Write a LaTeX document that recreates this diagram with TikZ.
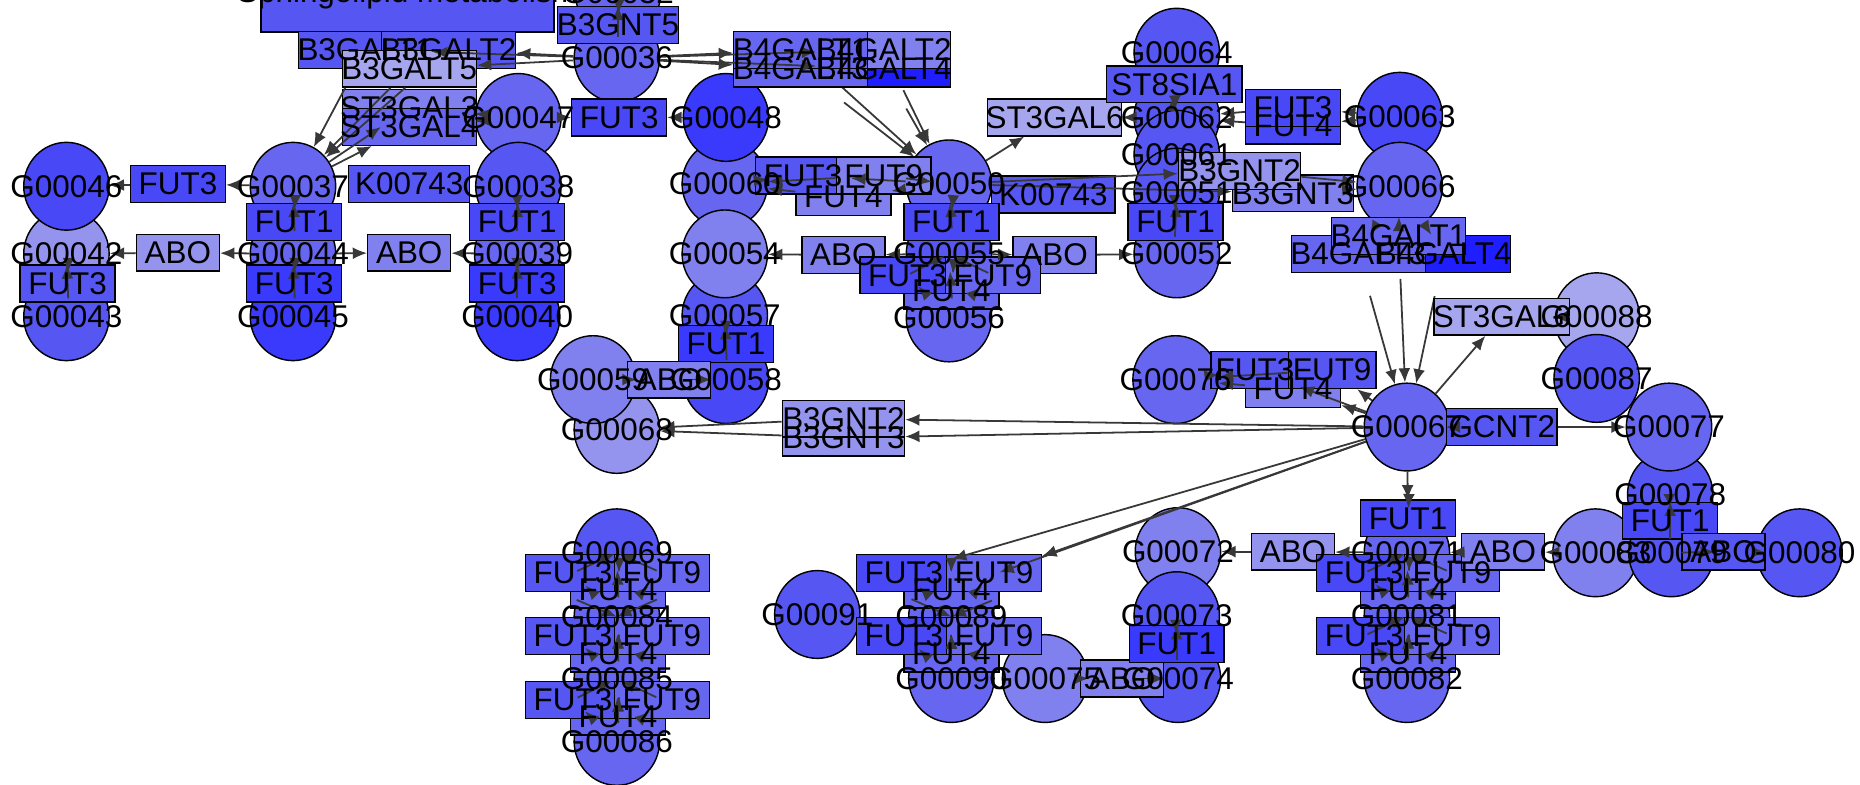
\documentclass[tikz,border=0pt]{standalone}
\usepackage{fontspec}
\newfontfamily\nodefont{Liberation Sans}
\usetikzlibrary{arrows.meta,shapes.geometric}
\definecolor{B1}{HTML}{1E1EFF}
\definecolor{B2}{HTML}{3A3AFC}
\definecolor{B3}{HTML}{4848F7}
\definecolor{B4}{HTML}{5656F3}
\definecolor{B5}{HTML}{6666F0}
\definecolor{B6}{HTML}{8080EE}
\definecolor{B7}{HTML}{9494EE}
\definecolor{B8}{HTML}{A6A6EE}
\definecolor{Edge}{HTML}{383838}
\pgfdeclarelayer{under}
\pgfdeclarelayer{labels}
\pgfsetlayers{under,main,labels}

\begin{document}
\begin{tikzpicture}[x=0.5pt, y=-0.5pt,
    cpd/.style={ellipse, draw=black, line width=0.6pt, minimum width=36pt, minimum height=37pt, inner sep=0pt},
    gene/.style={rectangle, draw=black, line width=0.6pt, minimum height=15.5pt, inner sep=0pt},
    lbl/.style={font=\nodefont\fontsize{13.25pt}{15pt}\selectfont, inner sep=0pt, text=black},
    rxn/.style={draw=Edge, line width=0.75pt, -{Latex[length=6pt, width=5pt]}}]
  \useasboundingbox (0,0) rectangle (1568,661);
  \begin{pgfonlayer}{under}
    \fill[white] (0,0) rectangle (1568,661);
  \end{pgfonlayer}
  \clip (0,0) rectangle (1568,661);

  % compounds
  \foreach \n/\x/\y/\c in {g32/521/-6/B5, g36/520/49/B5, g47/437/99/B5, g60/611/155/B5, g48/612/99/B2,
      g42/56/214/B7, g43/56/267/B4, g46/56/157/B3, g44/247/214/B5, g45/247/267/B2, g37/247/157/B5,
      g38/437/157/B4, g39/436/214/B5, g40/436/267/B2,
      g64/992/44/B4, g62/992/99/B4, g61/992/130/B4, g51/992/162/B4, g52/992/214/B5,
      g63/1180/98/B3, g66/1180/157/B5, g50/800/155/B5, g57/611/266/B4, g54/611/214/B6,
      g55/800/214/B4, g56/800/268/B5, g58/612/320/B3, g68/520/362/B7, g59/500/320/B6,
      g67/1186/360/B5, g76/991/320/B5, g88/1346/267/B8, g87/1346/319/B4, g78/1408/417/B4, g77/1407/360/B5,
      g69/520/466/B4, g84/520/520/B5, g85/520/572/B5, g86/520/625/B5, g91/689/518/B4,
      g89/802/520/B5, g90/802/572/B5, g75/881/572/B6, g72/993/465/B6, g73/992/519/B4, g74/993/572/B4,
      g71/1186/466/B5, g81/1186/519/B5, g82/1186/572/B5, g83/1345/466/B6, g79/1409/466/B4, g80/1517/466/B4}
    \node[cpd, fill=\c] (\n) at (\x,\y) {};

  % genes and map
  \node[gene, fill=B4, minimum width=123.5pt, minimum height=32pt] (sph) at (343.5,-5) {};
  \foreach \n/\x/\y/\w/\c in {b3gnt5/521/21/102/B4,
      b3galt1/308/42/113/B4, b3galt2/378/42/113/B4, b3galt5/345/58/113/B8,
      st3gal3/345/91/113/B6, st3gal4/345/107/113/B5, fut3t/522/99/80/B3,
      fut3l/150/155/80/B3, k743a/345/155/102/B4, fut1a/248/187/80/B3, fut1b/436/187/80/B3,
      aboa/150/213/70/B7, abob/345/213/70/B6, fut3c/57/239/80/B4, fut3d/248/239/80/B2, fut3e/436/239/80/B2,
      b4galt4a/745/58/113/B1, b4galt2a/745/42/113/B6, b4galt3a/675/58/113/B5, b4galt1a/675/42/113/B5,
      st3gal6a/889/99/113/B8, st8sia1/990/71/114/B4, fut4r/1090/106/80/B3, fut3r/1090/91/80/B3,
      k743b/888/164/104/B4, b3gnt3a/1090/163/102/B6, b3gnt2a/1045/144/103/B7, fut1d/991/187/80/B3,
      fut4m/711/166/80/B6, fut3m/677/148/80/B4, fut9m/745/148/80/B6, fut1c/802/187/80/B3,
      aboc/711/215/70/B6, abod/889/215/70/B6, fut4n/802/245/80/B5, fut3n/765/232/80/B3, fut9n/837/232/80/B5,
      b4galt4b/1217/214/113/B1, b4galt3b/1145/214/113/B5, b4galt1b/1179/199/113/B5,
      fut1e/612/290/80/B2, aboe/564/320/70/B6, b3gnt3b/711/369/103/B7, b3gnt2b/711/353/103/B7,
      st3gal6b/1266/267/114/B8, gcnt2/1266/360/93/B4,
      fut4s/1090/328/80/B6, fut3s/1058/312/74/B4, fut9s/1123/312/74/B4,
      fut4a1/521/497/80/B5, fut3a1/483/483/80/B4, fut9a1/558/483/80/B5,
      fut4a2/521/551/80/B5, fut3a2/483/536/80/B4, fut9a2/558/536/80/B5,
      fut4a3/521/604/80/B5, fut3a3/483/590/80/B4, fut9a3/558/590/80/B5,
      fut4b1/802/497/80/B5, fut3b1/762/483/80/B3, fut9b1/838/483/80/B5,
      fut4b2/802/551/80/B5, fut3b2/762/536/80/B3, fut9b2/838/536/80/B5,
      aboh/946/572/70/B6, fut1g/992/543/80/B2, abof/1090/465/70/B7, fut1f/1187/437/80/B3,
      fut4c1/1187/497/80/B5, fut3c1/1150/483/80/B3, fut9c1/1224/483/80/B5,
      fut4c2/1187/551/80/B5, fut3c2/1150/536/80/B3, fut9c2/1224/536/80/B5,
      abog/1267/465/70/B6, fut1h/1408/439/80/B3, aboi/1453/465/70/B4}
    \node[gene, fill=\c, minimum width=\w*0.5pt] (\n) at (\x,\y) {};

  % reactions hidden behind the boxes
  \begin{pgfonlayer}{under}
    \foreach \a/\b in {b4galt1a/g50, b4galt2a/g50, b4galt3a/g50, b4galt4a/g50,
        b4galt1b/g67, b4galt3b/g67, b4galt4b/g67}
      \draw[rxn, shorten <=10pt] (\a) -- (\b);
  \end{pgfonlayer}

  % reactions
  \draw[rxn, shorten <=9pt] (b3galt1) -- (g37);
  \draw[rxn, shorten <=12pt] (b3galt2) -- (g37);
  \draw[rxn] (b3galt5) -- (g37);
  \foreach \a/\b in {g36/b3galt1, g36/b3galt2, g36/b3galt5, g37/st3gal3, g37/st3gal4,
      st3gal3/g47, st3gal4/g47, g47/fut3t, g48/fut3t, g32/b3gnt5, b3gnt5/g36,
      g37/fut3l, fut3l/g46, g37/fut1a, fut1a/g44, g38/fut1b, fut1b/g39,
      g44/aboa, aboa/g42, g44/abob, g39/abob,
      g42/fut3c, fut3c/g43, g44/fut3d, fut3d/g45, g39/fut3e, fut3e/g40,
      g36/b4galt1a, g36/b4galt2a, g36/b4galt3a, g36/b4galt4a,
      g50/fut3m, g50/fut9m, g50/fut4m, fut3m/g60, fut9m/g60, fut4m/g60,
      g50/st3gal6a, g62/st3gal6a, g50/b3gnt2a, g50/b3gnt3a, b3gnt2a/g66, b3gnt3a/g66,
      g50/fut1c, fut1c/g55, g55/aboc, aboc/g54, g55/abod, abod/g52,
      g55/fut3n, g55/fut4n, g55/fut9n, fut3n/g56, fut4n/g56, fut9n/g56,
      st8sia1/g64, st8sia1/g61, g63/fut3r, g63/fut4r, fut3r/g62, fut4r/g62,
      g51/fut1d, fut1d/g52, g66/b4galt1b, g66/b4galt3b, g66/b4galt4b,
      g67/fut3s, g67/fut4s, g67/fut9s, fut3s/g76, fut4s/g76, fut9s/g76,
      g67/st3gal6b, st3gal6b/g88, g67/gcnt2, gcnt2/g77,
      g67/b3gnt2b, g67/b3gnt3b, b3gnt2b/g68, b3gnt3b/g68,
      g58/aboe, aboe/g59, g57/fut1e, fut1e/g58,
      g67/fut1f, fut1f/g71, g71/abof, abof/g72, g83/abog, abog/g71,
      g71/fut3c1, g71/fut4c1, g71/fut9c1, fut3c1/g81, fut4c1/g81, fut9c1/g81,
      g81/fut3c2, g81/fut4c2, g81/fut9c2, fut3c2/g82, fut4c2/g82, fut9c2/g82,
      g67/fut3b1, g67/fut4b1, g67/fut9b1, fut3b1/g89, fut4b1/g89, fut9b1/g89,
      g89/fut3b2, g89/fut4b2, g89/fut9b2, fut3b2/g90, fut4b2/g90, fut9b2/g90,
      g69/fut3a1, g69/fut4a1, g69/fut9a1, fut3a1/g84, fut4a1/g84, fut9a1/g84,
      g84/fut3a2, g84/fut4a2, g84/fut9a2, fut3a2/g85, fut4a2/g85, fut9a2/g85,
      g85/fut3a3, g85/fut4a3, g85/fut9a3, fut3a3/g86, fut4a3/g86, fut9a3/g86,
      g74/aboh, aboh/g75, g73/fut1g, fut1g/g74,
      g78/fut1h, fut1h/g79, g80/aboi, aboi/g79}
    \draw[rxn] (\a) -- (\b);

  % labels on top
  \begin{pgfonlayer}{labels}
    \foreach \n/\t in {sph/Sphingolipid metabolism, g32/G00032, g36/G00036, b3gnt5/B3GNT5,
        b3galt1/B3GALT1, b3galt2/B3GALT2, b3galt5/B3GALT5, st3gal3/ST3GAL3, st3gal4/ST3GAL4,
        g47/G00047, fut3t/FUT3, g48/G00048, g46/G00046, fut3l/FUT3, g37/G00037, k743a/K00743, g38/G00038,
        fut1a/FUT1, fut1b/FUT1, g42/G00042, aboa/ABO, g44/G00044, abob/ABO, g39/G00039,
        fut3c/FUT3, fut3d/FUT3, fut3e/FUT3, g43/G00043, g45/G00045, g40/G00040,
        b4galt1a/B4GALT1, b4galt3a/B4GALT3, b4galt2a/B4GALT2, b4galt4a/B4GALT4,
        g64/G00064, st8sia1/ST8SIA1, st3gal6a/ST3GAL6, g62/G00062, fut3r/FUT3, fut4r/FUT4, g63/G00063,
        g61/G00061, g60/G00060, fut3m/FUT3, fut9m/FUT9, fut4m/FUT4, g50/G00050, k743b/K00743,
        g51/G00051, b3gnt2a/B3GNT2, b3gnt3a/B3GNT3, g66/G00066, fut1c/FUT1, fut1d/FUT1,
        b4galt1b/B4GALT1, b4galt3b/B4GALT3, b4galt4b/B4GALT4,
        g54/G00054, aboc/ABO, g55/G00055, abod/ABO, g52/G00052, fut3n/FUT3, fut9n/FUT9, fut4n/FUT4, g56/G00056,
        g57/G00057, fut1e/FUT1, g59/G00059, aboe/ABO, g58/G00058, g68/G00068,
        b3gnt2b/B3GNT2, b3gnt3b/B3GNT3, st3gal6b/ST3GAL6, g88/G00088, g87/G00087,
        g76/G00076, fut3s/FUT3, fut9s/FUT9, fut4s/FUT4, g67/G00067, gcnt2/GCNT2, g77/G00077, g78/G00078,
        g69/G00069, fut3a1/FUT3, fut9a1/FUT9, fut4a1/FUT4, g84/G00084, fut3a2/FUT3, fut9a2/FUT9, fut4a2/FUT4,
        g85/G00085, fut3a3/FUT3, fut9a3/FUT9, fut4a3/FUT4, g86/G00086, g91/G00091,
        fut3b1/FUT3, fut9b1/FUT9, fut4b1/FUT4, g89/G00089, fut3b2/FUT3, fut9b2/FUT9, fut4b2/FUT4, g90/G00090,
        g75/G00075, aboh/ABO, g72/G00072, g73/G00073, fut1g/FUT1, g74/G00074, abof/ABO,
        fut1f/FUT1, g71/G00071, fut3c1/FUT3, fut9c1/FUT9, fut4c1/FUT4, g81/G00081,
        fut3c2/FUT3, fut9c2/FUT9, fut4c2/FUT4, g82/G00082, abog/ABO, g83/G00083,
        fut1h/FUT1, g79/G00079, aboi/ABO, g80/G00080}
      \node[lbl] (t\n) at (\n) {\t};
  \end{pgfonlayer}
\end{tikzpicture}
\end{document}
